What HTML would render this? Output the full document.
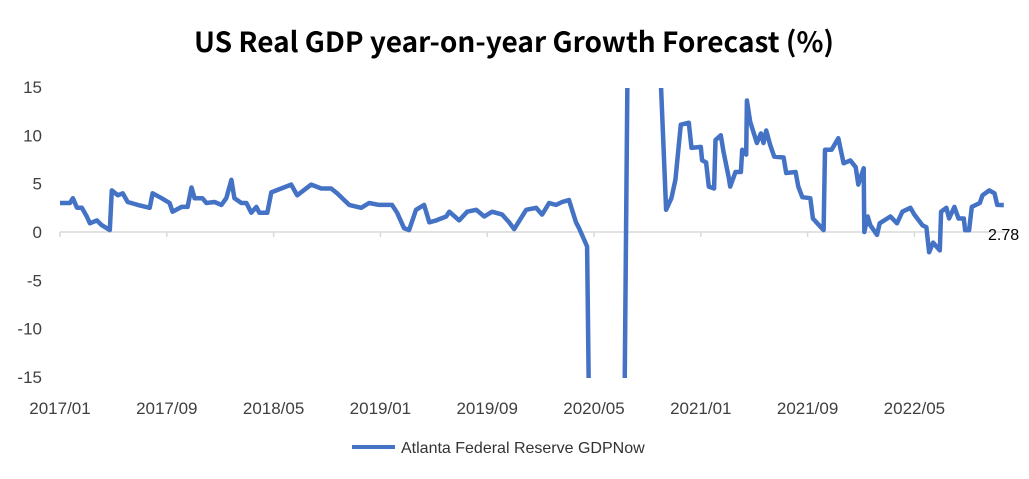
<!DOCTYPE html>
<html><head><meta charset="utf-8"><style>
html,body{margin:0;padding:0;background:#fff;width:1029px;height:479px;overflow:hidden;font-family:"Liberation Sans","Noto Sans CJK SC",sans-serif}
svg{display:block}
</style></head><body>
<svg id="chart" width="1029" height="479" xmlns="http://www.w3.org/2000/svg">
<defs><clipPath id="plotclip"><rect x="55" y="88" width="970" height="290"/></clipPath></defs>
<text x="514" y="52" text-anchor="middle" font-family="'Noto Sans CJK SC',sans-serif" font-size="28" font-weight="bold" fill="#000">US Real GDP year-on-year Growth Forecast (%)</text>
<g id="yaxis"></g>
<g id="xaxis"></g>
<g clip-path="url(#plotclip)"><path id="series" fill="none" stroke="#4472C4" stroke-width="4.5" stroke-linejoin="round"/></g>
<text x="988" y="240" font-size="16" fill="#000">2.78</text>
<g>
<line x1="352" y1="447" x2="395" y2="447" stroke="#4472C4" stroke-width="4"/>
<text x="401" y="453" font-size="16" fill="#333">Atlanta Federal Reserve GDPNow</text>
</g>
</svg>
<script>
const yTicks=[15,10,5,0,-5,-10,-15];
const xTickLabels=["2017/01","2017/09","2018/05","2019/01","2019/09","2020/05","2021/01","2021/09","2022/05"];
const xTickMonths=[0,8,16,24,32,40,48,56,64];
const months=[0,0.75,0.97,1.27,1.64,2.01,2.24,2.76,3.13,3.73,3.88,4.33,4.7,5.07,5.82,6.72,6.94,7.61,8.21,8.43,9.11,9.56,9.85,10.08,10.67,10.97,11.57,12.09,12.46,12.84,13.06,13.59,13.96,14.33,14.71,14.93,15.53,15.83,16.57,17.32,17.77,18.82,19.57,20.31,20.76,21.66,22.56,23.15,23.9,24.87,25.25,25.77,26.15,26.67,27.27,27.66,28.19,28.93,29.16,29.9,30.5,31.18,31.78,32.37,33.12,33.64,34.02,34.92,35.66,36.11,36.64,37.16,37.61,38.13,38.65,38.88,39.1,39.48,39.6,42.3,42.5,45.0,45.4,45.8,46.1,46.5,47.1,47.3,48.0,48.1,48.4,48.6,49.0,49.1,49.5,49.7,50.1,50.2,50.6,51.0,51.1,51.4,51.45,51.7,52.2,52.5,52.7,52.9,53.2,53.5,54.2,54.4,55.1,55.3,55.6,56.2,56.4,57.0,57.2,57.3,57.8,58.3,58.7,59.2,59.6,59.8,60.2,60.25,60.5,60.7,61.2,61.4,62.2,62.7,63.1,63.7,64.0,64.6,64.9,65.1,65.4,65.9,66.0,66.4,66.6,67.0,67.3,67.7,67.8,68.1,68.3,68.9,69.1,69.6,70.0,70.2,70.7];
const values=[3.0,3.0,3.5,2.5,2.5,1.6,0.9,1.2,0.7,0.2,4.3,3.8,4.0,3.1,2.8,2.5,4.0,3.5,3.0,2.1,2.6,2.6,4.6,3.5,3.5,3.0,3.1,2.8,3.5,5.4,3.5,3.0,3.0,2.0,2.6,2.0,2.0,4.1,4.5,4.9,3.8,4.9,4.5,4.5,4.0,2.8,2.5,3.0,2.8,2.8,2.0,0.4,0.2,2.3,2.8,1.0,1.2,1.6,2.1,1.2,2.1,2.3,1.6,2.1,1.8,1.0,0.3,2.3,2.5,1.8,3.0,2.8,3.1,3.3,1.0,0.4,-0.3,-1.5,-30,-30,33,33,2.3,3.5,5.4,11.1,11.3,8.7,8.8,7.4,7.2,4.7,4.5,9.5,10.0,8.3,5.6,4.7,6.2,6.2,8.5,8.0,13.6,11.4,9.2,10.2,9.2,10.5,9.0,7.8,7.7,6.1,6.2,4.7,3.6,3.5,1.4,0.5,0.2,8.5,8.5,9.7,7.1,7.4,6.7,4.9,6.6,0.0,1.6,0.7,-0.3,0.9,1.6,0.9,2.1,2.5,1.8,0.7,0.5,-2.1,-1.1,-1.9,2.1,2.5,1.4,2.6,1.4,1.4,0.2,0.2,2.6,3.0,3.8,4.3,4.0,2.8,2.78];
const X=m=>60+m*13.35;
const Y=v=>232-Math.max(-15.6,Math.min(15.6,v))*9.67;
const NS="http://www.w3.org/2000/svg";
const ya=document.getElementById('yaxis'),xa=document.getElementById('xaxis');
yTicks.forEach(v=>{const t=document.createElementNS(NS,'text');


t.setAttribute('x',42);t.setAttribute('y',Y(v)+6);t.setAttribute('text-anchor','end');t.setAttribute('font-size','17');t.setAttribute('fill','#404040');t.textContent=v;ya.appendChild(t);});
const base=document.createElementNS(NS,'line');


base.setAttribute('x1',60);base.setAttribute('x2',1005);base.setAttribute('y1',Y(0));base.setAttribute('y2',Y(0));base.setAttribute('stroke','#d9d9d9');base.setAttribute('stroke-width','1.5');xa.appendChild(base);
xTickMonths.forEach((m,i)=>{const l=document.createElementNS(NS,'line');


l.setAttribute('x1',X(m));l.setAttribute('x2',X(m));l.setAttribute('y1',Y(0));l.setAttribute('y2',Y(0)+5);l.setAttribute('stroke','#d9d9d9');l.setAttribute('stroke-width','1.5');xa.appendChild(l);
const t=document.createElementNS(NS,'text');


t.setAttribute('x',X(m));t.setAttribute('y',414);t.setAttribute('text-anchor','middle');t.setAttribute('font-size','17');t.setAttribute('fill','#404040');t.textContent=xTickLabels[i];xa.appendChild(t);});
document.getElementById('series').setAttribute('d',months.map((m,i)=>(i?'L':'M')+X(m).toFixed(1)+' '+Y(values[i]).toFixed(1)).join(' '));
</script>
</body></html>
